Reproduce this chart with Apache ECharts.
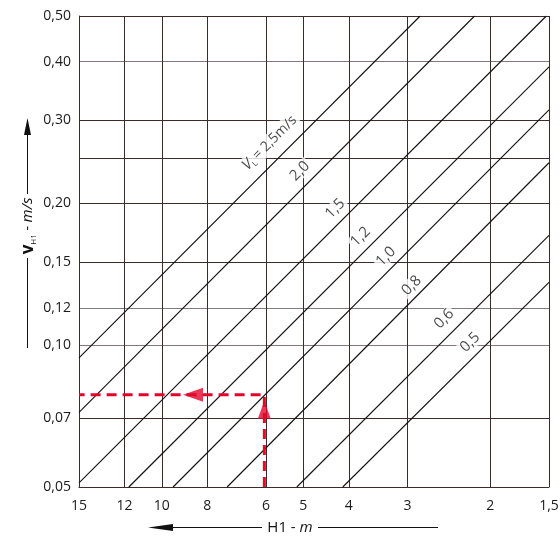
<!DOCTYPE html>
<html>
<head>
<meta charset="utf-8">
<script src="https://cdn.jsdelivr.net/npm/echarts@6/dist/echarts.min.js"></script>
<style>
  html, body { margin: 0; padding: 0; background: #fff; }
  #chart { width: 560px; height: 536px; }
</style>
</head>
<body>
<div id="chart"></div>
<script>
// axis ticks (H1 in m, v_H1 in m/s)
var hTicks = [15, 12, 10, 8, 6, 5, 4, 3, 2, 1.5];
var vTicks = [0.05, 0.07, 0.10, 0.12, 0.15, 0.20, 0.25, 0.30, 0.40, 0.50];
var vLabelTicks = [0.05, 0.07, 0.10, 0.12, 0.15, 0.20, 0.30, 0.40, 0.50];

// V_L lines: [H1 start, H1 end] and [v start, v end]
var lineNames = ['2,5', '2,0', '1,5', '1,2', '1,0', '0,8', '0,6', '0,5'];
var lineH = [[15, 2.82], [15, 2.16], [15, 1.52], [11.75, 1.5], [9.46, 1.5], [7.26, 1.5], [5.16, 1.5], [4.12, 1.5]];
var lineV = [[0.094, 0.5], [0.072, 0.5], [0.051, 0.5], [0.05, 0.39], [0.05, 0.316], [0.05, 0.244], [0.05, 0.171], [0.05, 0.136]];

// worked example (red dashed reading)
var exampleH = 6.05;
var exampleV = 0.0785;

// where the line labels sit (H1 along each line) and how far off the line
var labelH = [5.56, 4.84, 4.09, 3.61, 3.2, 2.83, 2.38, 2.11];
var labelGap = [17, 14, 13, 13, 12, 11, 15, 13];

var lg = Math.log10;
var RED = '#e2062c';
var FONT = 'Open Sans';
var INK = '#1a1a1a';

function onLine(i, h) {
  var h0 = lg(lineH[i][0]), h1 = lg(lineH[i][1]);
  var v0 = lg(lineV[i][0]), v1 = lg(lineV[i][1]);
  var t = (lg(h) - h0) / (h1 - h0);
  return [lg(h), v0 + t * (v1 - v0)];
}

function fmtH(val) {
  var n = Math.round(Math.pow(10, val) * 10) / 10;
  return String(n).replace('.', ',');
}
function fmtV(val) {
  return Math.pow(10, val).toFixed(2).replace('.', ',');
}

var series = [];
lineNames.forEach(function (name, i) {
  series.push({
    type: 'line',
    name: name,
    z: 3,
    silent: true,
    symbol: 'none',
    data: [
      [lg(lineH[i][0]), lg(lineV[i][0])],
      [lg(lineH[i][1]), lg(lineV[i][1])]
    ],
    lineStyle: { color: '#141010', width: 1.1 }
  });
});

// line labels, white box hides the grid behind them
series.push({
  type: 'scatter',
  z: 1,
  silent: true,
  symbolSize: 0,
  data: lineNames.map(function (name, i) {
    return {
      value: onLine(i, labelH[i]),
      label: {
        offset: [0, -labelGap[i]],
        formatter: i === 0 ? '{v|V}{l|L}{t|= ' + name + 'm/s}' : name
      }
    };
  }),
  label: {
    show: true,
    position: 'inside',
    rotate: 45,
    color: INK,
    fontSize: 15,
    fontFamily: FONT,
    backgroundColor: '#fff',
    padding: [0, 2],
    rich: {
      v: { fontSize: 15, fontStyle: 'italic', fontFamily: FONT, color: INK, lineHeight: 17 },
      l: { fontSize: 8, fontFamily: FONT, color: INK, verticalAlign: 'bottom', lineHeight: 17, padding: [7, 2, 0, 0] },
      t: { fontSize: 14, fontFamily: FONT, color: INK, lineHeight: 17 }
    }
  }
});

// red reading example
series.push({
  type: 'line',
  z: 5,
  silent: true,
  symbol: 'none',
  data: [
    [lg(exampleH), lg(vTicks[0])],
    [lg(exampleH), lg(exampleV)],
    [lg(hTicks[0]), lg(exampleV)]
  ],
  lineStyle: { color: RED, width: 3, type: [10, 6] }
});
series.push({
  type: 'scatter',
  z: 6,
  silent: true,
  symbol: 'triangle',
  itemStyle: { color: RED },
  data: [
    { value: [lg(8.58), lg(exampleV)], symbolRotate: 90, symbolSize: [14, 20] },
    { value: [lg(exampleH), lg(0.0729)], symbolRotate: 0, symbolSize: [13, 18] }
  ]
});

var darkGrid = '#3b2b2b';
var lightGrid = '#85777a';

var option = {
  animation: false,
  backgroundColor: '#fff',
  grid: { left: 79, right: 11, top: 16, bottom: 49, containLabel: false, outerBoundsMode: 'none' },
  xAxis: {
    type: 'value',
    inverse: true,
    min: lg(1.5),
    max: lg(15),
    axisLine: { show: true, lineStyle: { color: darkGrid, width: 1 } },
    axisTick: { show: false, customValues: hTicks.map(lg) },
    axisLabel: {
      customValues: hTicks.map(lg),
      formatter: fmtH,
      margin: 12,
      color: INK,
      fontSize: 14,
      fontFamily: FONT,
      hideOverlap: false
    },
    splitLine: { show: true, lineStyle: { color: darkGrid, width: 1 } }
  },
  yAxis: {
    type: 'value',
    min: lg(0.05),
    max: lg(0.5),
    axisLine: { show: true, lineStyle: { color: darkGrid, width: 1 } },
    axisTick: { show: false, customValues: vTicks.map(lg) },
    axisLabel: {
      customValues: vLabelTicks.map(lg),
      formatter: fmtV,
      margin: 8,
      color: INK,
      fontSize: 14,
      fontFamily: FONT,
      hideOverlap: false
    },
    splitLine: {
      show: true,
      lineStyle: {
        width: 1,
        // 0.05 .. 0.50
        color: [darkGrid, darkGrid, lightGrid, lightGrid, darkGrid, darkGrid, darkGrid, darkGrid, lightGrid, darkGrid]
      }
    }
  },
  graphic: [
    // y axis title with arrow
    { type: 'line', shape: { x1: 27.5, y1: 130, x2: 27.5, y2: 194 }, style: { stroke: '#111', lineWidth: 1 } },
    { type: 'polygon', shape: { points: [[27.5, 118], [24, 135], [31, 135]] }, style: { fill: '#111' } },
    {
      type: 'text',
      x: 28,
      y: 226,
      rotation: Math.PI / 2,
      style: {
        text: '{b|v}{s|H1}{t| - }{i|m/s}',
        align: 'center',
        verticalAlign: 'middle',
        rich: {
          b: { fontSize: 17, fontWeight: 'bold', fontFamily: FONT, fill: '#111', lineHeight: 19 },
          s: { fontSize: 8, fontFamily: FONT, fill: '#111', verticalAlign: 'bottom', lineHeight: 19, padding: [6, 0, 0, 0] },
          t: { fontSize: 14, fontFamily: FONT, fill: '#111', lineHeight: 19 },
          i: { fontSize: 15, fontStyle: 'italic', fontFamily: FONT, fill: '#111', lineHeight: 19 }
        }
      }
    },
    { type: 'line', shape: { x1: 27.5, y1: 258, x2: 27.5, y2: 348 }, style: { stroke: '#111', lineWidth: 1 } },
    // x axis title with arrow
    { type: 'polygon', shape: { points: [[148, 527.5], [173, 524], [173, 531]] }, style: { fill: '#111' } },
    { type: 'line', shape: { x1: 170, y1: 527.5, x2: 262, y2: 527.5 }, style: { stroke: '#111', lineWidth: 1 } },
    {
      type: 'text',
      x: 290,
      y: 528,
      style: {
        text: '{t|H1 - }{i|m}',
        align: 'center',
        verticalAlign: 'middle',
        rich: {
          t: { fontSize: 15, fontFamily: FONT, fill: '#111' },
          i: { fontSize: 15, fontStyle: 'italic', fontFamily: FONT, fill: '#111' }
        }
      }
    },
    { type: 'line', shape: { x1: 318, y1: 527.5, x2: 438, y2: 527.5 }, style: { stroke: '#111', lineWidth: 1 } }
  ],
  series: series
};

var chart = echarts.init(document.getElementById('chart'), null, { renderer: 'canvas' });
chart.setOption(option);
</script>
</body>
</html>
